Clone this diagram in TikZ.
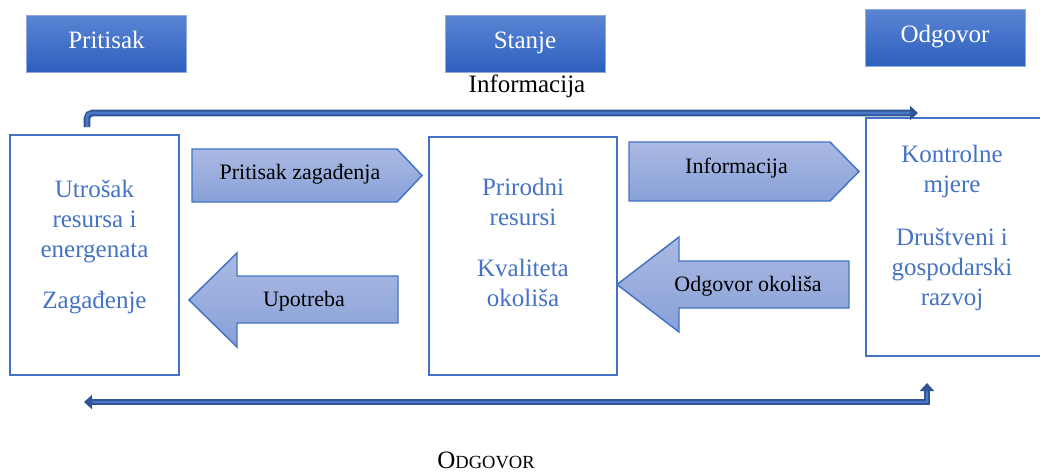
\documentclass[tikz,border=0pt]{standalone}
\usepackage{fontspec}
\setmainfont{Liberation Serif}
\usetikzlibrary{arrows.meta}
\definecolor{hdrtop}{HTML}{5A85D4}
\definecolor{hdrbot}{HTML}{2D5FBE}
\definecolor{hdrline}{HTML}{8FAADC}
\definecolor{acc}{HTML}{4472C4}
\definecolor{arrtop}{HTML}{AAB9E2}
\definecolor{arrbot}{HTML}{88A1D8}
\definecolor{conndark}{HTML}{2F5597}
\definecolor{connlight}{HTML}{4A78C8}
\tikzset{
  hdr/.style={rectangle, draw=hdrline, line width=0.75pt, top color=hdrtop, bottom color=hdrbot,
    minimum width=120pt, minimum height=42.75pt, inner sep=0pt, text=white,
    font=\fontsize{18.75}{22.5}\selectfont, text height=12pt, text depth=5.25pt},
  bigbox/.style={rectangle, draw=acc, line width=1.5pt, inner sep=0pt},
  boxtext/.style={anchor=north, inner sep=0pt, align=center, text=acc,
    font=\fontsize{18.75}{22.5}\selectfont},
  arrshape/.style={draw=acc, line width=1.1pt, top color=arrtop, bottom color=arrbot, line join=miter},
  arrlabel/.style={anchor=base, inner sep=0pt, font=\fontsize{16.5}{20}\selectfont},
  plainlabel/.style={anchor=base, inner sep=0pt, font=\fontsize{18.75}{22.5}\selectfont},
  connout/.style={draw=conndark, line width=5pt},
  connin/.style={draw=connlight, line width=2.2pt},
  conntip/.style={Triangle[length=6pt,width=10.5pt]},
}
\begin{document}
\begin{tikzpicture}[x=0.75pt,y=-0.75pt]
\useasboundingbox (0,0) rectangle (1040,472);
\clip (0,0) rectangle (1040,472);

% header boxes
\node[hdr] (hPritisak) at (106.5,43.5) {Pritisak};
\node[hdr] (hStanje) at (525,43.5) {Stanje};
\node[hdr] (hOdgovor) at (945,38) {Odgovor};

% main boxes
\node[bigbox, minimum width=126.75pt, minimum height=180pt] (box1) at (94.5,255) {};
\node[bigbox, minimum width=141pt, minimum height=178.5pt] (box2) at (523,256) {};
\node[bigbox, minimum width=138pt, minimum height=178.5pt] (box3) at (958,237) {};

\node[boxtext] (t1) at (94.5,180) {Utrošak\\resursa i\\energenata\\[15.75pt]Zagađenje};
\node[boxtext] (t2) at (523,178) {Prirodni\\resursi\\[16pt]Kvaliteta\\okoliša};
\node[boxtext] (t3) at (952,145) {Kontrolne\\mjere\\[17pt]Društveni i\\gospodarski\\razvoj};

% block arrows
\path[arrshape] (192,149) -- (397,149) -- (422,175.5) -- (397,202) -- (192,202) -- cycle;
\node[arrlabel] (aPritisak) at (300,179) {Pritisak zagađenja};

\path[arrshape] (629,142) -- (830,142) -- (859,171.5) -- (830,201) -- (629,201) -- cycle;
\node[arrlabel] (aInfo) at (736.5,173) {Informacija};

\path[arrshape] (189,300) -- (237,253) -- (237,276) -- (398,276) -- (398,323) -- (237,323) -- (237,347) -- cycle;
\node[arrlabel] (aUpotreba) at (304,306) {Upotreba};

\path[arrshape] (617,284.5) -- (679,237) -- (679,261) -- (849,261) -- (849,308) -- (679,308) -- (679,332) -- cycle;
\node[arrlabel] (aOdgovor) at (748,291) {Odgovor okoliša};

% connectors
\coordinate (topA) at (87,127);
\coordinate (topB) at (918,113);
\coordinate (botA) at (927,383);
\coordinate (botB) at (84,402);

\draw[connout, rounded corners=4pt, -{Triangle[length=6pt,width=10.5pt]}] (topA) |- (topB);
\draw[connin, rounded corners=3pt, shorten >=6pt] (topA) |- (topB);

\draw[connout, {Triangle[length=6pt,width=10.5pt]}-{Triangle[length=6pt,width=10.5pt]}] (botB) -| (botA);
\draw[connin, shorten >=6pt, shorten <=6pt] (botB) -| (botA);

% labels
\node[plainlabel] (lInfo) at (527,92) {Informacija};
\node[plainlabel] (lOdgovor) at (486,468) {O{\fontsize{13.9}{16}\selectfont DGOVOR}};
\end{tikzpicture}
\end{document}
